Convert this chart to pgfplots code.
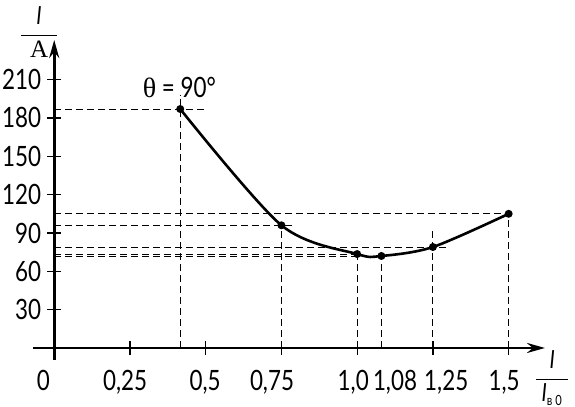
\documentclass[border=0pt]{standalone}
\usepackage{pgfplots}
\pgfplotsset{compat=1.18}
\usepackage{fontspec}
\setmainfont{Lato}[FakeStretch=0.8]
\newfontfamily\serif{Liberation Serif}
\usetikzlibrary{arrows.meta}
\begin{document}
\begin{tikzpicture}
\begin{axis}[
    scale only axis,
    width=256pt, height=160pt,
    axis lines=middle,
    xmin=-0.07, xmax=1.62,
    ymin=-9.4, ymax=241,
    axis line style={line width=1.3pt, -{Stealth[length=9pt,width=5pt]}},
    xtick={0.25,0.5,0.75,1,1.25,1.5},
    xticklabels={},
    ytick={30,60,90,120,150,180,210},
    major tick length=7pt,
    tick style={black, line width=0.6pt},
    tick align=center,
    /pgf/number format/assume math mode=true,
    font=\fontsize{14}{16}\selectfont,
    yticklabel style={xshift=0.5pt},
    clip=false,
]
\coordinate (o) at (rel axis cs:0,0);
% dashed guide lines
\addplot[black, line width=0.5pt, dash pattern=on 3.5pt off 2pt] coordinates {(0,187) (0.495,187)};
\addplot[black, line width=0.5pt, dash pattern=on 3.5pt off 2pt] coordinates {(0,96) (0.79,96)};
\addplot[black, line width=0.5pt, dash pattern=on 3.5pt off 2pt] coordinates {(0,105) (1.5,105)};
\addplot[black, line width=0.5pt, dash pattern=on 3.5pt off 2pt] coordinates {(0,79) (1.30,79)};
\addplot[black, line width=0.5pt, dash pattern=on 3.5pt off 2pt] coordinates {(0,73.5) (1.0,73.5)};
\addplot[black, line width=0.5pt, dash pattern=on 3.5pt off 2pt] coordinates {(0,71.5) (1.08,71.5)};
\addplot[black, line width=0.5pt, dash pattern=on 3.5pt off 2pt] coordinates {(0.416,0) (0.416,198)};
\addplot[black, line width=0.5pt, dash pattern=on 3.5pt off 2pt] coordinates {(0.75,0) (0.75,96)};
\addplot[black, line width=0.5pt, dash pattern=on 3.5pt off 2pt] coordinates {(1.0,0) (1.0,77)};
\addplot[black, line width=0.5pt, dash pattern=on 3.5pt off 2pt] coordinates {(1.08,0) (1.08,72)};
\addplot[black, line width=0.5pt, dash pattern=on 3.5pt off 2pt] coordinates {(1.25,0) (1.25,94)};
\addplot[black, line width=0.5pt, dash pattern=on 3.5pt off 2pt] coordinates {(1.5,0) (1.5,105)};
% characteristic
\addplot[black, line width=1.3pt, smooth, tension=0.5, mark=*, mark size=1.3pt]
    coordinates {(0.416,187) (0.75,96) (1.0,73.5) (1.08,72) (1.25,79) (1.5,105)};
% x tick labels
\node[anchor=base] at (axis cs:-0.036,-33) {0};
\node[anchor=base] at (axis cs:0.234,-33) {0,25};
\node[anchor=base] at (axis cs:0.498,-33) {0,5};
\node[anchor=base] at (axis cs:0.719,-33) {0,75};
\node[anchor=base] at (axis cs:0.987,-33) {1,0};
\node[anchor=base] at (axis cs:1.125,-33) {1,08};
\node[anchor=base] at (axis cs:1.294,-33) {1,25};
\node[anchor=base] at (axis cs:1.485,-33) {1,5};
% labels
\node at (axis cs:0.413,204) {{\serif θ} = 90°};
\node[font=\fontsize{12.5}{14}\selectfont, inner sep=0pt] at (axis cs:-0.05,247) {$\displaystyle\frac{\makebox[18pt]{\textit{I}}}{\mbox{\serif A}}$};
\node[font=\fontsize{12.5}{14}\selectfont, inner sep=0pt] at (axis cs:1.644,-23.5) {$\displaystyle\frac{\makebox[16pt]{\textit{I}}}{\textit{I}_{\mbox{\scriptsize в 0}}}$};
\end{axis}
\pgfresetboundingbox
\path ([shift={(-16.5pt,-23.5pt)}]o) rectangle ([shift={(271pt,180pt)}]o);
\end{tikzpicture}
\end{document}
